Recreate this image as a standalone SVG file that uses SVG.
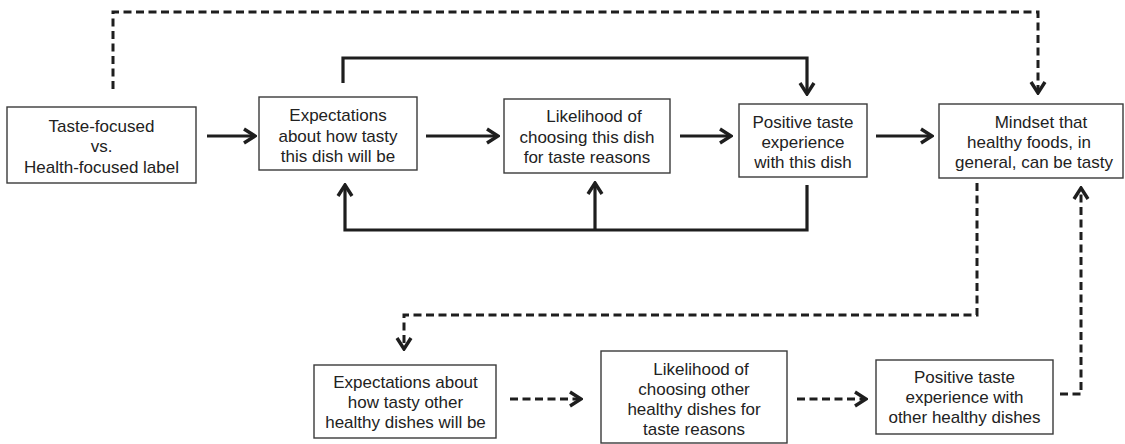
<svg xmlns="http://www.w3.org/2000/svg" width="1125" height="444" viewBox="0 0 1125 444">
  <defs>
    <style>
      .box { fill: #ffffff; stroke: #3a3a3a; stroke-width: 1.4; }
      .lbl { font-family: "Liberation Sans", Arial, sans-serif; font-size: 17px; fill: #222222; text-anchor: middle; }
      .solid { fill: none; stroke: #1e1e1e; stroke-width: 3.2; stroke-linejoin: miter; }
      .dash { fill: none; stroke: #1e1e1e; stroke-width: 3; stroke-dasharray: 8 4.5; }
    </style>
    <!-- open chevron arrowhead, tip at the path end -->
    <marker id="chev" viewBox="-14 -9 16 18" refX="0" refY="0" markerWidth="16" markerHeight="18" markerUnits="userSpaceOnUse" orient="auto">
      <path d="M-11,-7 L0,0 L-11,7" fill="none" stroke="#1e1e1e" stroke-width="3.4" stroke-linejoin="miter"/>
    </marker>
  </defs>
  <rect width="1125" height="444" fill="#ffffff"/>

  <g id="connectors">
    <!-- main chain -->
    <path class="solid" d="M207,136 H255" marker-end="url(#chev)"/>
    <path class="solid" d="M426,136 H498" marker-end="url(#chev)"/>
    <path class="solid" d="M680,136 H731" marker-end="url(#chev)"/>
    <path class="solid" d="M876,136 H932" marker-end="url(#chev)"/>
    <!-- loop over the top -->
    <path class="solid" d="M343,83 V58 H807 V94" marker-end="url(#chev)"/>
    <!-- feedback loop underneath -->
    <path class="solid" d="M807,185 V230 H345 V185" marker-end="url(#chev)"/>
    <path class="solid" d="M595,230 V183" marker-end="url(#chev)"/>
    <!-- label to mindset -->
    <path class="dash" d="M113,89 V12 H1038 V93" marker-end="url(#chev)"/>
    <!-- mindset to generalised chain -->
    <path class="dash" d="M977,183 V315 H404 V349" marker-end="url(#chev)"/>
    <path class="dash" d="M510,399 H581" marker-end="url(#chev)"/>
    <path class="dash" d="M797,399 H866" marker-end="url(#chev)"/>
    <path class="dash" d="M1060,394 H1081 V188" marker-end="url(#chev)"/>
  </g>

  <g id="label-type">
    <rect class="box" x="7" y="107" width="189" height="76"/>
    <text class="lbl" x="101.5" y="132">Taste-focused</text>
    <text class="lbl" x="101.5" y="152">vs.</text>
    <text class="lbl" x="101.5" y="173">Health-focused label</text>
  </g>

  <g id="expect-dish">
    <rect class="box" x="259" y="97" width="158" height="73"/>
    <text class="lbl" x="338" y="121">Expectations</text>
    <text class="lbl" x="338" y="141.5">about how tasty</text>
    <text class="lbl" x="338" y="162">this dish will be</text>
  </g>

  <g id="choose-dish">
    <rect class="box" x="504" y="99" width="166" height="74"/>
    <text class="lbl" x="594" y="122">Likelihood of</text>
    <text class="lbl" x="587" y="143">choosing this dish</text>
    <text class="lbl" x="587" y="163">for taste reasons</text>
  </g>

  <g id="taste-dish">
    <rect class="box" x="739" y="104" width="128" height="73"/>
    <text class="lbl" x="803" y="128">Positive taste</text>
    <text class="lbl" x="803" y="148">experience</text>
    <text class="lbl" x="803" y="168">with this dish</text>
  </g>

  <g id="mindset">
    <rect class="box" x="939" y="104" width="184" height="74"/>
    <text class="lbl" x="1041" y="128">Mindset that</text>
    <text class="lbl" x="1029" y="148">healthy foods, in</text>
    <text class="lbl" x="1034" y="168">general, can be tasty</text>
  </g>

  <g id="expect-other">
    <rect class="box" x="314" y="365" width="182" height="73"/>
    <text class="lbl" x="405.5" y="388">Expectations about</text>
    <text class="lbl" x="405.5" y="408">how tasty other</text>
    <text class="lbl" x="405.5" y="427.5">healthy dishes will be</text>
  </g>

  <g id="choose-other">
    <rect class="box" x="601" y="351" width="186" height="92"/>
    <text class="lbl" x="701" y="375">Likelihood of</text>
    <text class="lbl" x="694" y="395">choosing other</text>
    <text class="lbl" x="694" y="415">healthy dishes for</text>
    <text class="lbl" x="694" y="435">taste reasons</text>
  </g>

  <g id="taste-other">
    <rect class="box" x="876" y="360" width="177" height="74"/>
    <text class="lbl" x="964.5" y="383">Positive taste</text>
    <text class="lbl" x="964.5" y="403">experience with</text>
    <text class="lbl" x="964.5" y="423">other healthy dishes</text>
  </g>
</svg>
